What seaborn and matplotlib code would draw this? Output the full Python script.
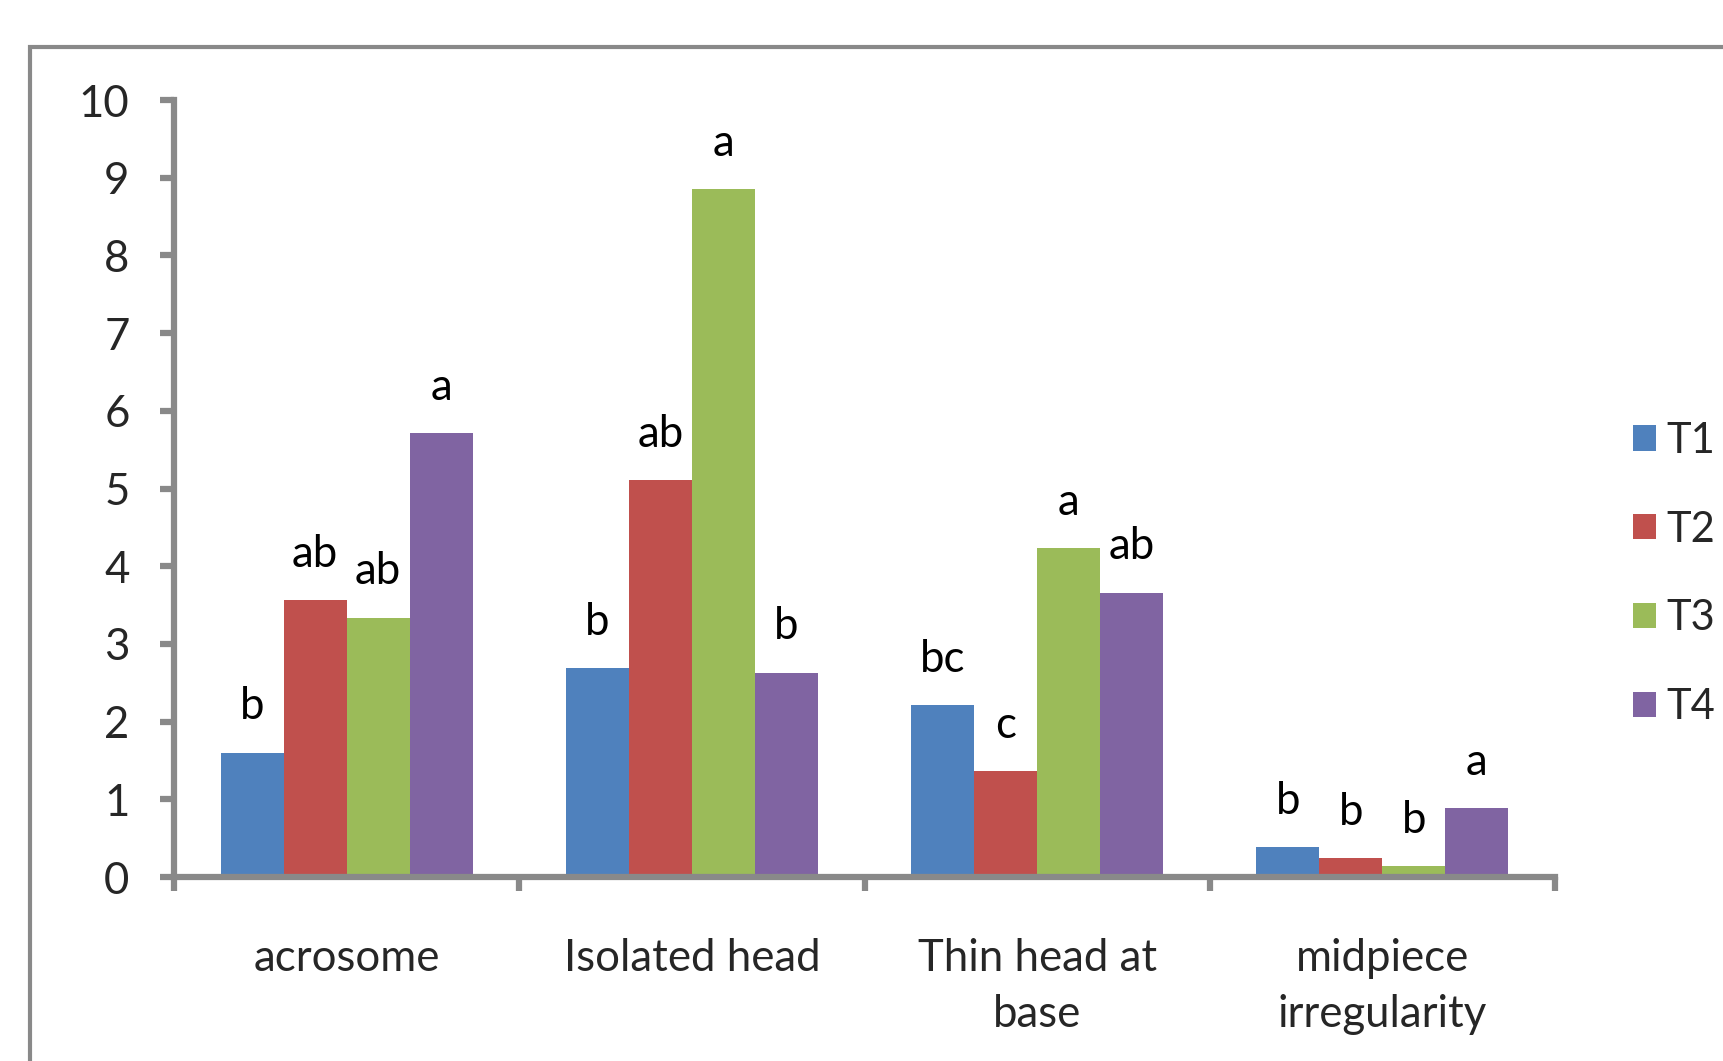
import matplotlib
matplotlib.use("Agg")
import matplotlib.pyplot as plt
from matplotlib.patches import Rectangle, Patch
import seaborn as sns
import pandas as pd

categories = ["acrosome", "Isolated head", "Thin head at\nbase", "midpiece\nirregularity"]
treatments = ["T1", "T2", "T3", "T4"]
t1 = [1.60, 2.69, 2.21, 0.38]
t2 = [3.56, 5.11, 1.36, 0.24]
t3 = [3.34, 8.85, 4.23, 0.14]
t4 = [5.71, 2.63, 3.66, 0.89]
letters_t1 = ["b", "b", "bc", "b"]
letters_t2 = ["ab", "ab", "c", "b"]
letters_t3 = ["ab", "a", "a", "b"]
letters_t4 = ["a", "b", "ab", "a"]
colors = ["#4F81BD", "#C0504D", "#9BBB59", "#8064A2"]

rows = []
for tname, vals, labs in zip(treatments, [t1, t2, t3, t4],
                             [letters_t1, letters_t2, letters_t3, letters_t4]):
    for cat, v, lab in zip(categories, vals, labs):
        rows.append({"category": cat, "treatment": tname, "value": v, "letter": lab})
df = pd.DataFrame(rows)

sns.set_style("white")
plt.rcParams["font.family"] = ["Lato", "DejaVu Sans"]
FS = 31.5
GRAY = "#898989"

fig = plt.figure(figsize=(17.23, 10.61), dpi=100)
ax = fig.add_axes([0.101, 0.1734, 0.8015, 0.7323])

sns.barplot(data=df, x="category", y="value", hue="treatment",
            order=categories, hue_order=treatments, palette=colors,
            width=0.73, gap=0, linewidth=0, saturation=1, legend=False, ax=ax)

# significance letters above each bar
for container, tname in zip(ax.containers, treatments):
    sub = df[df["treatment"] == tname].set_index("category").loc[categories]
    for bar, lab in zip(container, sub["letter"]):
        ax.annotate(lab, (bar.get_x() + bar.get_width() / 2, bar.get_height()),
                    xytext=(0, 33), textcoords="offset points",
                    ha="center", va="center", fontsize=FS, color="black")

ax.set_ylim(0, 10)
ax.set_xlim(-0.5, len(categories) - 0.5)
ax.set_yticks(range(0, 11))
ax.set_xticks(range(len(categories)))
ax.set_xticklabels(categories, fontsize=FS, linespacing=1.45)
ax.set_xticks([i - 0.5 for i in range(len(categories) + 1)], minor=True)
ax.tick_params(axis="x", which="major", bottom=False, length=0, pad=44)
ax.tick_params(axis="x", which="minor", bottom=True, length=10, width=4.5,
               color=GRAY, direction="out")
ax.tick_params(axis="y", left=True, length=10, width=4.5, color=GRAY, direction="out",
               pad=22, labelsize=FS)
ax.set_xlabel("")
ax.set_ylabel("")
for side in ["top", "right"]:
    ax.spines[side].set_visible(False)
for side in ["left", "bottom"]:
    ax.spines[side].set_color(GRAY)
    ax.spines[side].set_linewidth(4.5)

handles = [Patch(facecolor=c, edgecolor="none") for c in colors]
fig.legend(handles, treatments, loc="center left", bbox_to_anchor=(0.948, 0.459),
           frameon=False, fontsize=30, handlelength=0.55, handleheight=0.55,
           handletextpad=0.25, labelspacing=1.22, borderaxespad=0, borderpad=0)

# outer chart frame
fig.patches.append(Rectangle((30 / 1723, -0.05), 1.2, 1 - 47 / 1061 + 0.05,
                             transform=fig.transFigure, fill=False,
                             edgecolor=GRAY, linewidth=3))

fig.savefig("out.png", dpi=100)
